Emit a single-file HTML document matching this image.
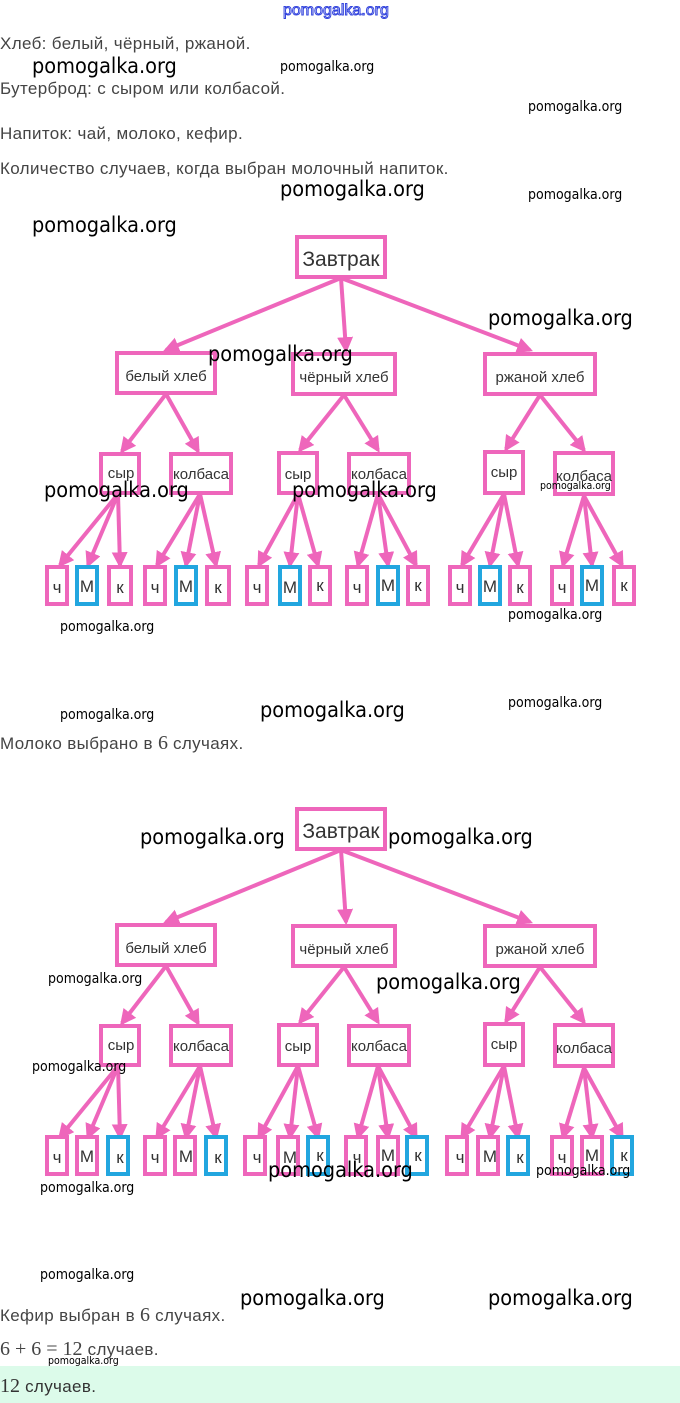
<!DOCTYPE html>
<html><head><meta charset="utf-8"><style>
body{margin:0;width:680px;height:1403px;background:#fff;position:relative;overflow:hidden;font-family:"Liberation Sans",sans-serif}
.t{position:absolute;left:0;font-size:17px;letter-spacing:0.35px;color:#444;white-space:nowrap}
.w{position:absolute;color:#000;font-size:21.5px;white-space:nowrap;font-family:"DejaVu Sans Condensed","Liberation Sans",sans-serif}
.s{position:absolute;color:#000;font-size:14px;white-space:nowrap;font-family:"DejaVu Sans Condensed","Liberation Sans",sans-serif}
svg{position:absolute;left:0;top:0}
.m{font-family:"Liberation Serif",serif;font-size:20px;letter-spacing:0}
</style></head><body>
<svg width="680" height="1403">
<defs>
<marker id="a" markerWidth="4" markerHeight="4" refX="3.2" refY="2" orient="auto" markerUnits="strokeWidth"><path d="M0,0 L4,2 L0,4 Z" fill="#ee66bb"/></marker>
<g id="lines" stroke="#ee66bb" stroke-width="4" fill="none" marker-end="url(#a)">
<line x1="341" y1="278" x2="166" y2="350"/><line x1="341" y1="278" x2="346" y2="350"/><line x1="341" y1="278" x2="530" y2="350"/>
<line x1="166" y1="394" x2="122" y2="451"/><line x1="166" y1="394" x2="198" y2="451"/>
<line x1="344" y1="395" x2="300" y2="450"/><line x1="344" y1="395" x2="378" y2="450"/>
<line x1="540" y1="395" x2="506" y2="449"/><line x1="540" y1="395" x2="584" y2="450"/>
<line x1="118" y1="494" x2="60" y2="565"/><line x1="118" y1="494" x2="88" y2="565"/><line x1="118" y1="494" x2="120" y2="565"/>
<line x1="200" y1="494" x2="157" y2="565"/><line x1="200" y1="494" x2="186" y2="565"/><line x1="200" y1="494" x2="216" y2="565"/>
<line x1="298" y1="494" x2="259" y2="565"/><line x1="298" y1="494" x2="290" y2="565"/><line x1="298" y1="494" x2="318" y2="565"/>
<line x1="378" y1="494" x2="358" y2="565"/><line x1="378" y1="494" x2="388" y2="565"/><line x1="378" y1="494" x2="416" y2="565"/>
<line x1="504" y1="494" x2="462" y2="565"/><line x1="504" y1="494" x2="490" y2="565"/><line x1="504" y1="494" x2="518" y2="565"/>
<line x1="584" y1="496" x2="563" y2="565"/><line x1="584" y1="496" x2="592" y2="565"/><line x1="584" y1="496" x2="622" y2="565"/>
</g>
<g id="boxes" stroke="#ee66bb" stroke-width="4" fill="#fff">
<rect x="297" y="237" width="88" height="40"/>
<rect x="117" y="353" width="98" height="40"/><rect x="293" y="354" width="102" height="40"/><rect x="485" y="354" width="110" height="40"/>
<rect x="101" y="454" width="38" height="39"/><rect x="171" y="454" width="60" height="39"/>
<rect x="279" y="453" width="38" height="40"/><rect x="349" y="454" width="60" height="39"/>
<rect x="485" y="452" width="38" height="41"/><rect x="555" y="453" width="58" height="41"/>
</g>
<g id="labels" font-family="Liberation Sans,sans-serif" fill="#333" text-anchor="middle">
<text x="341" y="266" font-size="21">Завтрак</text>
<text x="166" y="381" font-size="15">белый хлеб</text><text x="344" y="382" font-size="15">чёрный хлеб</text><text x="540" y="382" font-size="15">ржаной хлеб</text>
<text x="121" y="478" font-size="15">сыр</text><text x="201" y="479" font-size="15">колбаса</text>
<text x="298" y="479" font-size="15">сыр</text><text x="379" y="479" font-size="15">колбаса</text>
<text x="504" y="477" font-size="15">сыр</text><text x="584" y="481" font-size="15">колбаса</text>
</g>
<g id="leaf" stroke-width="4" fill="#fff">
<rect x="47" y="567" width="20" height="37" stroke="#ee66bb"/><rect x="77" y="567" width="20" height="37" stroke="#22a6df"/><rect x="109" y="567" width="22" height="37" stroke="#ee66bb"/>
<rect x="145" y="567" width="20" height="37" stroke="#ee66bb"/><rect x="176" y="567" width="20" height="37" stroke="#22a6df"/><rect x="207" y="567" width="22" height="37" stroke="#ee66bb"/>
<rect x="247" y="567" width="20" height="37" stroke="#ee66bb"/><rect x="280" y="567" width="20" height="37" stroke="#22a6df"/><rect x="310" y="567" width="20" height="37" stroke="#ee66bb"/>
<rect x="347" y="567" width="20" height="37" stroke="#ee66bb"/><rect x="378" y="567" width="20" height="37" stroke="#22a6df"/><rect x="408" y="567" width="20" height="37" stroke="#ee66bb"/>
<rect x="450" y="567" width="20" height="37" stroke="#ee66bb"/><rect x="480" y="567" width="20" height="37" stroke="#22a6df"/><rect x="510" y="567" width="20" height="37" stroke="#ee66bb"/>
<rect x="552" y="567" width="20" height="37" stroke="#ee66bb"/><rect x="582" y="567" width="20" height="37" stroke="#22a6df"/><rect x="614" y="567" width="20" height="37" stroke="#ee66bb"/>
</g>
<g id="ll" font-family="Liberation Sans,sans-serif" fill="#333" text-anchor="middle" font-size="17">
<text x="57" y="593">ч</text><text x="87" y="592">М</text><text x="120" y="593">к</text>
<text x="155" y="593">ч</text><text x="186" y="592">М</text><text x="218" y="593">к</text>
<text x="257" y="593">ч</text><text x="290" y="593">М</text><text x="320" y="591">к</text>
<text x="357" y="593">ч</text><text x="388" y="591">М</text><text x="418" y="591">к</text>
<text x="460" y="593">ч</text><text x="490" y="592">М</text><text x="520" y="593">к</text>
<text x="562" y="593">ч</text><text x="592" y="591">М</text><text x="624" y="591">к</text>
</g>
</defs>
<use href="#lines"/><use href="#boxes"/><use href="#labels"/><use href="#leaf"/><use href="#ll"/>
<g transform="translate(0,572)">
<use href="#lines"/><use href="#boxes"/><use href="#labels"/>
<g stroke-width="4" fill="#fff">
<rect x="47" y="565" width="20" height="37" stroke="#ee66bb"/><rect x="77" y="565" width="20" height="37" stroke="#ee66bb"/><rect x="108" y="565" width="20" height="37" stroke="#22a6df"/>
<rect x="145" y="565" width="20" height="37" stroke="#ee66bb"/><rect x="175" y="565" width="20" height="37" stroke="#ee66bb"/><rect x="206" y="565" width="20" height="37" stroke="#22a6df"/>
<rect x="245" y="565" width="20" height="37" stroke="#ee66bb"/><rect x="278" y="565" width="20" height="37" stroke="#ee66bb"/><rect x="308" y="565" width="20" height="37" stroke="#22a6df"/>
<rect x="346" y="565" width="20" height="37" stroke="#ee66bb"/><rect x="378" y="565" width="20" height="37" stroke="#ee66bb"/><rect x="407" y="565" width="20" height="37" stroke="#22a6df"/>
<rect x="447" y="565" width="20" height="37" stroke="#ee66bb"/><rect x="478" y="565" width="20" height="37" stroke="#ee66bb"/><rect x="508" y="565" width="20" height="37" stroke="#22a6df"/>
<rect x="552" y="565" width="20" height="37" stroke="#ee66bb"/><rect x="582" y="565" width="20" height="37" stroke="#ee66bb"/><rect x="612" y="565" width="20" height="37" stroke="#22a6df"/>
</g>
<use href="#ll" transform="translate(0,-2)"/>
</g>
</svg>
<div class="t" style="left:283px;top:2px;font-size:16px;letter-spacing:0;color:#fff;-webkit-text-stroke:1px #3344dd">pomogalka.org</div>
<div class="t" style="top:34px">Хлеб: белый, чёрный, ржаной.</div>
<div class="t" style="top:79px">Бутерброд: с сыром или колбасой.</div>
<div class="t" style="top:124px">Напиток: чай, молоко, кефир.</div>
<div class="t" style="top:159px">Количество случаев, когда выбран молочный напиток.</div>
<div class="t" style="top:732px">Молоко выбрано в <span class="m">6</span> случаях.</div>
<div class="t" style="top:1304px">Кефир выбран в <span class="m">6</span> случаях.</div>
<div class="t" style="top:1338px"><span class="m">6 + 6 = 12</span> случаев.</div>
<div style="position:absolute;left:0;top:1366px;width:680px;height:37px;background:#dcfbea"></div>
<div class="t" style="top:1375px;color:#333"><span class="m">12</span> случаев.</div>
<div class="w" style="left:32px;top:54px">pomogalka.org</div>
<div class="s" style="left:280px;top:59px">pomogalka.org</div>
<div class="s" style="left:528px;top:99px">pomogalka.org</div>
<div class="w" style="left:280px;top:177px">pomogalka.org</div>
<div class="s" style="left:528px;top:187px">pomogalka.org</div>
<div class="w" style="left:32px;top:213px">pomogalka.org</div>
<div class="w" style="left:488px;top:306px">pomogalka.org</div>
<div class="w" style="left:208px;top:342px">pomogalka.org</div>
<div class="w" style="left:44px;top:478px">pomogalka.org</div>
<div class="w" style="left:292px;top:478px">pomogalka.org</div>
<div class="s" style="left:540px;top:480px;font-size:10.5px">pomogalka.org</div>
<div class="s" style="left:508px;top:607px">pomogalka.org</div>
<div class="s" style="left:60px;top:619px">pomogalka.org</div>
<div class="s" style="left:508px;top:695px">pomogalka.org</div>
<div class="s" style="left:60px;top:707px">pomogalka.org</div>
<div class="w" style="left:260px;top:698px">pomogalka.org</div>
<div class="w" style="left:140px;top:825px">pomogalka.org</div>
<div class="w" style="left:388px;top:825px">pomogalka.org</div>
<div class="s" style="left:48px;top:971px">pomogalka.org</div>
<div class="w" style="left:376px;top:970px">pomogalka.org</div>
<div class="s" style="left:32px;top:1059px">pomogalka.org</div>
<div class="w" style="left:268px;top:1158px">pomogalka.org</div>
<div class="s" style="left:536px;top:1163px">pomogalka.org</div>
<div class="s" style="left:40px;top:1180px">pomogalka.org</div>
<div class="s" style="left:40px;top:1267px">pomogalka.org</div>
<div class="w" style="left:240px;top:1286px">pomogalka.org</div>
<div class="w" style="left:488px;top:1286px">pomogalka.org</div>
<div class="s" style="left:48px;top:1355px;font-size:10.5px">pomogalka.org</div>
</body></html>
